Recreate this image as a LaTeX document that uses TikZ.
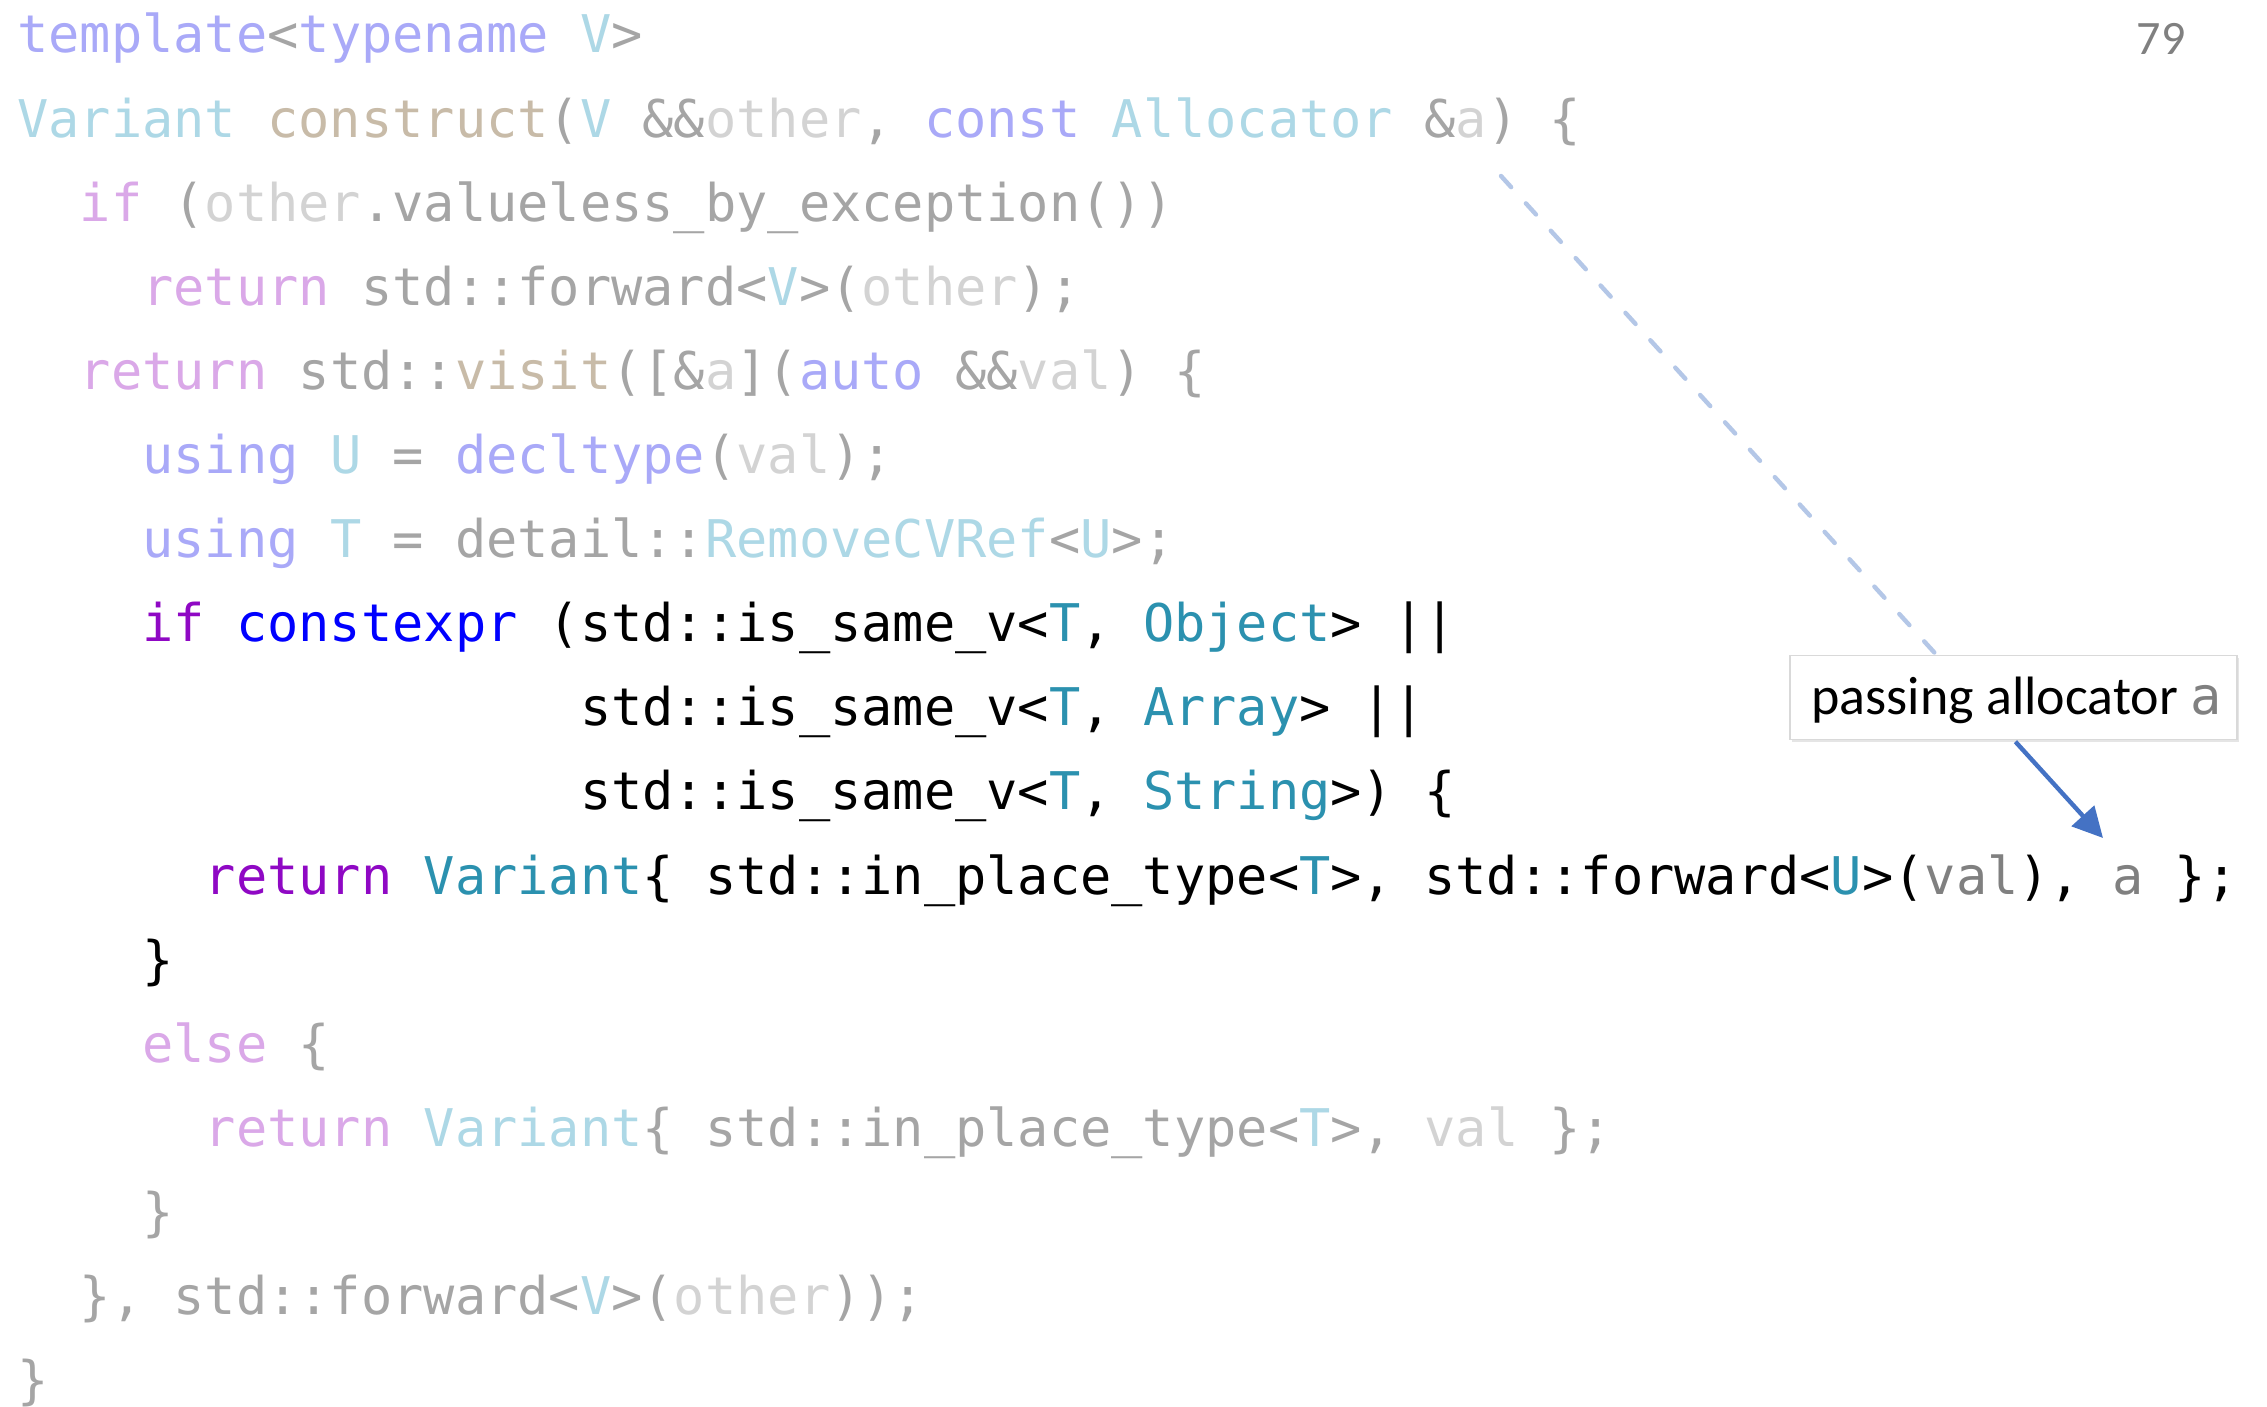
\documentclass[tikz,border=0pt]{standalone}
\usepackage{fontspec}
\usetikzlibrary{arrows.meta,shadows}
\newfontfamily\codefont{DejaVu Sans Mono}
\newfontfamily\notefont{Carlito}
\definecolor{kwc}{HTML}{A9A9F8}
\definecolor{tyc}{HTML}{ADD8E6}
\definecolor{fnc}{HTML}{C8BBA8}
\definecolor{grc}{HTML}{A5A5A5}
\definecolor{lgc}{HTML}{D3D3D3}
\definecolor{pkc}{HTML}{DAA8E8}
\definecolor{puc}{HTML}{8F08C4}
\definecolor{blc}{HTML}{0000FF}
\definecolor{tlc}{HTML}{2B91AF}
\definecolor{mgc}{HTML}{808080}
\definecolor{dashc}{HTML}{B4C7E7}
\definecolor{arrc}{HTML}{4472C4}
\definecolor{boxc}{HTML}{D9D9D9}
\newcommand\Ckw[1]{{\color{kwc}\relax#1}}
\newcommand\Cty[1]{{\color{tyc}\relax#1}}
\newcommand\Cfn[1]{{\color{fnc}\relax#1}}
\newcommand\Cgr[1]{{\color{grc}\relax#1}}
\newcommand\Clg[1]{{\color{lgc}\relax#1}}
\newcommand\Cpk[1]{{\color{pkc}\relax#1}}
\newcommand\Cpu[1]{{\color{puc}\relax#1}}
\newcommand\Cbl[1]{{\color{blc}\relax#1}}
\newcommand\Ctl[1]{{\color{tlc}\relax#1}}
\newcommand\Cmg[1]{{\color{mgc}\relax#1}}
\begin{document}
\begin{tikzpicture}[x=0.5pt,y=-0.5pt,
  codeline/.style={anchor=base west,inner sep=0pt,outer sep=0pt,font=\codefont\fontsize{25.97pt}{30pt}\selectfont},
  callout/.style={draw=boxc,line width=0.6pt,fill=white,inner sep=0pt,minimum width=223.5pt,minimum height=42pt,
    drop shadow={shadow xshift=1pt,shadow yshift=-1pt,opacity=0.25,fill=black!40}},
  dashlink/.style={draw=dashc,line width=2.2pt,line cap=round,dash pattern=on 7.5pt off 11pt},
  arrlink/.style={draw=arrc,line width=2.2pt,-{Triangle[length=15pt,width=15pt]}}]
\useasboundingbox (0,0) rectangle (2267,1407);
\fill[white] (0,0) rectangle (2267,1407);
\def\X#1{17.3+#1*31.27}
\def\Y#1{53+(#1-1)*84.1}
\node[codeline] (l1) at ({\X{0}},{\Y{1}}) {\Ckw{template}\Cgr{<}\Ckw{typename}\Cty{ V}\Cgr{>}};
\node[codeline] (l2) at ({\X{0}},{\Y{2}}) {\Cty{Variant} \Cfn{construct}\Cgr{(}\Cty{V}\Cgr{ \&\&}\Clg{other}\Cgr{,}\Ckw{ const}\Cty{ Allocator}\Cgr{ \&}\Clg{a}\Cgr{) \{}};
\node[codeline] (l3) at ({\X{2}},{\Y{3}}) {\Cpk{if}\Cgr{ (}\Clg{other}\Cgr{.valueless\_by\_exception())}};
\node[codeline] (l4) at ({\X{4}},{\Y{4}}) {\Cpk{return}\Cgr{ std::forward<}\Cty{V}\Cgr{>(}\Clg{other}\Cgr{);}};
\node[codeline] (l5) at ({\X{2}},{\Y{5}}) {\Cpk{return}\Cgr{ std::}\Cfn{visit}\Cgr{([\&}\Clg{a}\Cgr{](}\Ckw{auto}\Cgr{ \&\&}\Clg{val}\Cgr{) \{}};
\node[codeline] (l6) at ({\X{4}},{\Y{6}}) {\Ckw{using}\Cty{ U}\Cgr{ =}\Ckw{ decltype}\Cgr{(}\Clg{val}\Cgr{);}};
\node[codeline] (l7) at ({\X{4}},{\Y{7}}) {\Ckw{using}\Cty{ T}\Cgr{ = detail::}\Cty{RemoveCVRef}\Cgr{<}\Cty{U}\Cgr{>;}};
\node[codeline] (l8) at ({\X{4}},{\Y{8}}) {\Cpu{if}\Cbl{ constexpr} (std::is\_same\_v<\Ctl{T}, \Ctl{Object}> ||};
\node[codeline] (l9) at ({\X{18}},{\Y{9}}) {std::is\_same\_v<\Ctl{T}, \Ctl{Array}> ||};
\node[codeline] (l10) at ({\X{18}},{\Y{10}}) {std::is\_same\_v<\Ctl{T}, \Ctl{String}>) \{};
\node[codeline] (l11) at ({\X{6}},{\Y{11}}) {\Cpu{return} \Ctl{Variant}\{ std::in\_place\_type<\Ctl{T}>, std::forward<\Ctl{U}>(\Cmg{val}), \Cmg{a} \};};
\node[codeline] (l12) at ({\X{4}},{\Y{12}}) {\}};
\node[codeline] (l13) at ({\X{4}},{\Y{13}}) {\Cpk{else}\Cgr{ \{}};
\node[codeline] (l14) at ({\X{6}},{\Y{14}}) {\Cpk{return}\Cty{ Variant}\Cgr{\{ std::in\_place\_type<}\Cty{T}\Cgr{>, }\Clg{val}\Cgr{ \};}};
\node[codeline] (l15) at ({\X{4}},{\Y{15}}) {\Cgr{\}}};
\node[codeline] (l16) at ({\X{2}},{\Y{16}}) {\Cgr{\}, std::forward<}\Cty{V}\Cgr{>(}\Clg{other}\Cgr{));}};
\node[codeline] (l17) at ({\X{0}},{\Y{17}}) {\Cgr{\}}};
\node[anchor=base,inner sep=0pt,text=mgc,font=\notefont\fontsize{24pt}{28pt}\selectfont] (pg) at (2161,55) {79};
% connector
\coordinate (s) at (1501,176);
\coordinate (e) at (2103,838);
\path (s) -- (e) coordinate[pos=0.7258] (p1) coordinate[pos=0.8545] (p2);
\draw[dashlink] (s) -- (p1);
\node[callout] (box) at (2013.5,697.5) {};
\node[anchor=base west,inner sep=0pt,font=\notefont\fontsize{27pt}{32pt}\selectfont] (boxtext) at (1811,714) {passing allocator {\color{mgc}\codefont\fontsize{26pt}{30pt}\selectfont a}};
\draw[arrlink] (p2) -- (e);
\end{tikzpicture}
\end{document}
